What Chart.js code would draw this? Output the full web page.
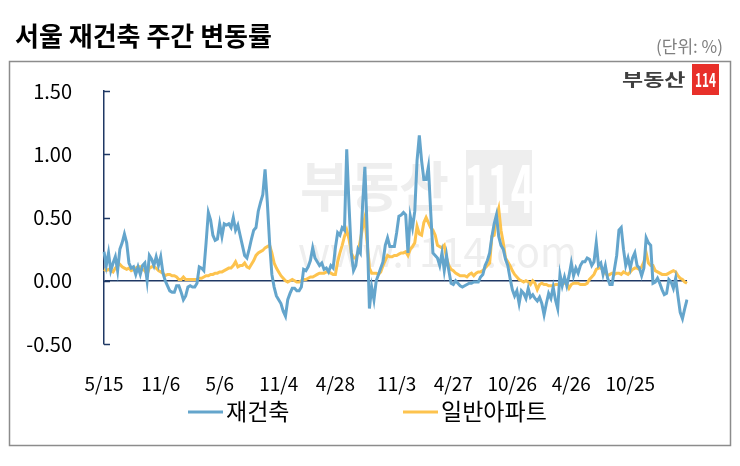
<!DOCTYPE html>
<html>
<head>
<meta charset="utf-8">
<script src="https://cdn.jsdelivr.net/npm/chart.js@4.4.1/dist/chart.umd.min.js"></script>
<style>
  html, body { margin: 0; padding: 0; background: #fff; }
  #wrap { width: 740px; height: 466px; }
</style>
</head>
<body>
<div id="wrap"><canvas id="line-chart" width="740" height="466"></canvas></div>
<script>
// weekly series, first week 2015-05-15
const startDate = '2015-05-15';
const tickLabels = ['5/15', '11/6', '5/6', '11/4', '4/28', '11/3', '4/27', '10/26', '4/26', '10/25'];
const seriesNames = ['재건축', '일반아파트'];

const rebuild = [
  0.23, 0.12, 0.22, 0.08, 0.14, 0.19, 0.08, 0.25, 0.30, 0.37,
  0.30, 0.14, 0.10, 0.11, 0.05, 0.11, 0.05, 0.12, 0.14, 0.00,
  0.20, 0.17, 0.12, 0.19, 0.12, 0.19, 0.06, 0.00, -0.04, -0.08,
  -0.09, -0.09, -0.04, -0.04, -0.09, -0.15, -0.12, -0.05, -0.04, -0.05,
  -0.05, -0.02, 0.11, 0.10, 0.08, 0.30, 0.54, 0.48, 0.36, 0.32,
  0.33, 0.45, 0.35, 0.45, 0.44, 0.45, 0.42, 0.50, 0.40, 0.44,
  0.36, 0.28, 0.20, 0.18, 0.25, 0.33, 0.40, 0.42, 0.55, 0.62,
  0.68, 0.88, 0.62, 0.30, 0.05, -0.05, -0.12, -0.15, -0.18, -0.24,
  -0.28, -0.15, -0.10, -0.06, -0.06, -0.08, -0.08, -0.05, 0.09, 0.08,
  0.11, 0.16, 0.26, 0.18, 0.15, 0.12, 0.14, 0.09, 0.10, 0.07,
  0.12, 0.10, 0.26, 0.38, 0.36, 0.42, 0.40, 1.04, 0.60, 0.22,
  0.08, 0.12, 0.25, 0.22, 0.60, 0.90, 0.40, -0.22, -0.05, -0.15,
  0.00, 0.05, 0.10, 0.15, 0.28, 0.34, 0.27, 0.27, 0.27, 0.38,
  0.51, 0.52, 0.54, 0.52, 0.22, 0.51, 0.42, 0.55, 0.95, 1.15,
  0.95, 0.80, 0.80, 0.90, 0.55, 0.22, 0.20, 0.18, 0.12, 0.22,
  0.08, 0.20, 0.08, -0.02, -0.03, 0.00, -0.02, -0.04, -0.05, -0.04,
  -0.03, -0.02, -0.02, -0.01, -0.01, -0.01, 0.03, 0.05, 0.12, 0.16,
  0.22, 0.35, 0.45, 0.52, 0.35, 0.28, 0.25, 0.17, 0.12, 0.02,
  -0.07, -0.12, -0.08, -0.18, -0.08, -0.10, -0.14, -0.06, -0.13, -0.11,
  -0.14, -0.16, -0.13, -0.18, -0.27, -0.18, -0.10, -0.14, -0.05, -0.15,
  -0.22, 0.05, -0.04, 0.03, -0.04, 0.04, 0.14, 0.04, 0.10, 0.06,
  0.12, 0.15, 0.15, 0.18, 0.17, 0.12, 0.15, 0.30, 0.12, 0.14,
  0.05, 0.12, 0.02, -0.03, -0.03, 0.09, 0.20, 0.40, 0.42, 0.25,
  0.12, 0.18, 0.10, 0.18, 0.22, 0.12, 0.10, 0.04, 0.10, 0.34,
  0.30, 0.28, -0.02, -0.01, 0.02, -0.02, -0.07, -0.11, -0.10, 0.01,
  -0.01, -0.06, 0.02, -0.12, -0.25, -0.30, -0.22, -0.15
];

const apartment = [
  0.09, 0.08, 0.09, 0.08, 0.07, 0.10, 0.12, 0.13, 0.11, 0.10,
  0.09, 0.10, 0.08, 0.09, 0.10, 0.11, 0.11, 0.09, 0.08, 0.05,
  0.10, 0.11, 0.11, 0.10, 0.08, 0.07, 0.06, 0.04, 0.05, 0.05,
  0.04, 0.04, 0.03, 0.01, 0.01, 0.03, 0.01, 0.01, 0.01, 0.01,
  0.01, 0.01, 0.02, 0.02, 0.03, 0.04, 0.04, 0.05, 0.05, 0.06,
  0.06, 0.07, 0.07, 0.08, 0.09, 0.10, 0.10, 0.12, 0.15, 0.11,
  0.12, 0.12, 0.14, 0.11, 0.10, 0.13, 0.16, 0.20, 0.22, 0.23,
  0.24, 0.26, 0.27, 0.28, 0.22, 0.14, 0.10, 0.07, 0.04, 0.02,
  0.00, -0.01, 0.00, 0.01, 0.00, -0.01, -0.01, 0.00, 0.01, 0.01,
  0.02, 0.03, 0.03, 0.04, 0.05, 0.06, 0.06, 0.06, 0.07, 0.07,
  0.06, 0.05, 0.05, 0.15, 0.22, 0.28, 0.35, 0.40, 0.33, 0.22,
  0.18, 0.18, 0.22, 0.32, 0.42, 0.50, 0.30, 0.10, 0.06, 0.06,
  0.06, 0.05, 0.07, 0.12, 0.16, 0.20, 0.19, 0.19, 0.20, 0.20,
  0.21, 0.22, 0.22, 0.23, 0.20, 0.25, 0.27, 0.30, 0.43, 0.37,
  0.36, 0.46, 0.50, 0.46, 0.42, 0.40, 0.36, 0.28, 0.27, 0.26,
  0.28, 0.18, 0.12, 0.09, 0.08, 0.06, 0.05, 0.04, 0.04, 0.04,
  0.03, 0.05, 0.06, 0.04, 0.06, 0.07, 0.07, 0.08, 0.10, 0.12,
  0.14, 0.35, 0.36, 0.50, 0.57, 0.40, 0.30, 0.18, 0.15, 0.12,
  0.08, 0.05, 0.03, 0.01, 0.00, -0.01, 0.00, -0.01, -0.03, 0.00,
  -0.02, -0.07, -0.03, -0.02, -0.03, -0.03, -0.04, -0.04, -0.04, -0.03,
  -0.03, -0.03, -0.02, -0.02, -0.02, -0.06, -0.03, -0.02, -0.02, -0.02,
  -0.03, -0.03, -0.03, -0.02, 0.01, 0.03, 0.05, 0.09, 0.10, 0.10,
  0.09, 0.06, 0.04, 0.05, 0.06, 0.05, 0.06, 0.06, 0.05, 0.07,
  0.06, 0.05, 0.07, 0.09, 0.10, 0.10, 0.09, 0.11, 0.15, 0.22,
  0.14, 0.12, 0.12, 0.08, 0.07, 0.06, 0.05, 0.05, 0.05, 0.06,
  0.07, 0.08, 0.07, 0.04, 0.02, 0.01, -0.01, -0.02
];

// category labels: one per week
const categories = [];
const d0 = new Date(startDate + 'T00:00:00Z');
for (let i = 0; i < rebuild.length; i++) {
  const d = new Date(d0.getTime() + i * 7 * 86400000);
  categories.push((d.getUTCMonth() + 1) + '/' + d.getUTCDate());
}

const FONT = "'Noto Sans CJK KR', 'Noto Sans', sans-serif";
const NAVY = '#1f3864';
const BLUE = '#64a5cc';
const GOLD = '#fdc34e';

Chart.defaults.font.family = FONT;
Chart.defaults.color = '#000';

const decor = {
  id: 'decor',
  beforeDraw(chart) {
    const c = chart.ctx;
    c.save();
    c.fillStyle = '#fff';
    c.fillRect(0, 0, chart.width, chart.height);
    // outer frame
    c.strokeStyle = '#8c8c8c';
    c.lineWidth = 1.5;
    c.strokeRect(9.5, 61.5, 721, 384);
    // title + unit
    c.fillStyle = '#000';
    c.font = 'bold 26px ' + FONT;
    c.textBaseline = 'middle';
    c.textAlign = 'left';
    c.fillText('서울 재건축 주간 변동률', 15, 36);
    c.fillStyle = '#7f7f7f';
    c.font = '17px ' + FONT;
    c.textAlign = 'right';
    c.fillText('(단위: %)', 723, 47);
    // watermark
    c.fillStyle = '#eeeeee';
    c.font = 'bold 54px ' + FONT;
    c.textAlign = 'left';
    c.fillText('부동산', 300, 186);
    c.fillRect(466, 150, 66, 76);
    c.font = '40px ' + FONT;
    c.fillText('www.r114.com', 298, 252);
    c.save();
    c.translate(499, 188);
    c.scale(0.6, 1);
    c.fillStyle = '#fff';
    c.font = 'bold 66px ' + FONT;
    c.textAlign = 'center';
    c.fillText('114', 0, 0);
    c.restore();
    // logo
    c.save();
    c.translate(622, 79);
    c.scale(1, 0.75);
    c.fillStyle = '#3f3f3f';
    c.font = 'bold 23px ' + FONT;
    c.textAlign = 'left';
    c.fillText('부동산', 0, 0);
    c.restore();
    c.fillStyle = '#e8302a';
    c.fillRect(692, 64, 27, 31);
    c.save();
    c.translate(705.5, 80);
    c.scale(0.62, 1);
    c.fillStyle = '#fff';
    c.font = 'bold 19px ' + FONT;
    c.textAlign = 'center';
    c.fillText('114', 0, 0);
    c.restore();
    c.restore();
  },
  afterDraw(chart) {
    const c = chart.ctx;
    const y = chart.scales.y;
    c.save();
    // inner tick marks on the y axis
    c.strokeStyle = NAVY;
    c.lineWidth = 1.5;
    y.ticks.forEach(t => {
      const py = Math.round(y.getPixelForValue(t.value)) + 0.5;
      c.beginPath();
      c.moveTo(y.right, py);
      c.lineTo(y.right + 6, py);
      c.stroke();
    });
    // legend
    const items = [
      { x: 188, color: BLUE, text: seriesNames[0] },
      { x: 403, color: GOLD, text: seriesNames[1] }
    ];
    c.font = '23px ' + FONT;
    c.textBaseline = 'middle';
    c.textAlign = 'left';
    items.forEach(it => {
      c.strokeStyle = it.color;
      c.lineWidth = 3;
      c.beginPath();
      c.moveTo(it.x, 412);
      c.lineTo(it.x + 35, 412);
      c.stroke();
      c.fillStyle = '#000';
      c.fillText(it.text, it.x + 38, 411);
    });
    c.restore();
  }
};

new Chart(document.getElementById('line-chart'), {
  type: 'line',
  data: {
    labels: categories,
    datasets: [
      { label: seriesNames[0], data: rebuild, borderColor: BLUE, borderWidth: 3, pointRadius: 0, tension: 0 },
      { label: seriesNames[1], data: apartment, borderColor: GOLD, borderWidth: 3, pointRadius: 0, tension: 0 }
    ]
  },
  options: {
    responsive: false,
    animation: false,
    layout: { padding: { left: 0, top: 91, right: 53, bottom: 0 } },
    plugins: {
      legend: { display: false },
      title: { display: false },
      tooltip: { enabled: false }
    },
    scales: {
      x: {
        grid: { display: false },
        border: { display: false },
        ticks: {
          autoSkip: false,
          maxRotation: 0,
          minRotation: 0,
          padding: 20,
          font: { size: 19 },
          color: '#000',
          callback: function (val) {
            const lab = this.getLabelForValue(val);
            return tickLabels.includes(lab) ? lab : null;
          }
        },
        afterFit: s => { s.height = 122; }
      },
      y: {
        min: -0.5,
        max: 1.5,
        ticks: {
          stepSize: 0.5,
          padding: 32,
          font: { size: 20 },
          color: '#000',
          callback: v => v.toFixed(2)
        },
        grid: {
          drawTicks: false,
          lineWidth: 1.5,
          color: ctx => (ctx.tick && ctx.tick.value === 0) ? NAVY : 'transparent'
        },
        border: { display: true, color: NAVY, width: 1.5 },
        afterFit: s => { s.width = 104; }
      }
    }
  },
  plugins: [decor]
});
</script>
</body>
</html>
